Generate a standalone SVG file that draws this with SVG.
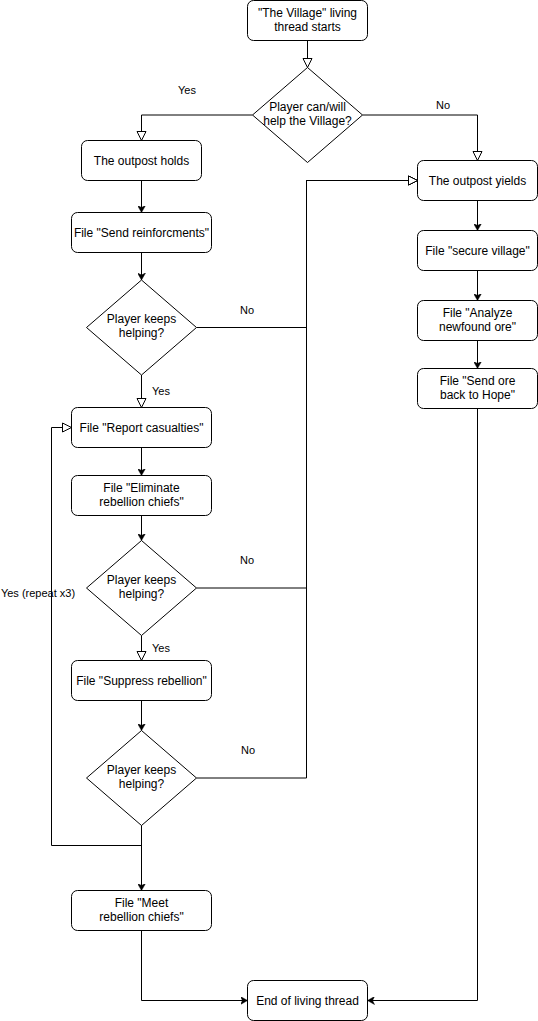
<svg xmlns="http://www.w3.org/2000/svg" width="538" height="1021" viewBox="0 0 538 1021">
<style>
.n{fill:#fff;stroke:#000;stroke-width:1}
.t{font-family:"Liberation Sans",Arial,Helvetica,sans-serif;font-size:12px;fill:#000;text-anchor:middle}
.l{font-family:"Liberation Sans",Arial,Helvetica,sans-serif;font-size:11px;fill:#000;text-anchor:middle}
.e{fill:none;stroke:#000;stroke-width:1}
.c{marker-end:url(#classic)}
.o{marker-end:url(#open)}
</style>
<defs>
<marker id="classic" viewBox="0 0 7 8" markerWidth="7" markerHeight="8" refX="7" refY="4" orient="auto" markerUnits="userSpaceOnUse">
<path d="M0,0 L7,4 L0,8 L2,4 Z" fill="#000" stroke="#000" stroke-width="0.5"/>
</marker>
<marker id="open" viewBox="-1 -1 11 11" markerWidth="11" markerHeight="11" refX="9" refY="4.5" orient="auto" markerUnits="userSpaceOnUse">
<path d="M0,0 L9,4.5 L0,9 Z" fill="#fff" stroke="#000" stroke-width="1"/>
</marker>
</defs>
<g id="connectors">
<path class="e o" d="M307.5 40.5 V67.5"/>
<path class="e o" d="M252.5 115 H141.5 V140.5"/>
<path class="e o" d="M362.5 115 H477.5 V160.5"/>
<path class="e c" d="M141.5 180.5 V212.5"/>
<path class="e c" d="M141.5 252.5 V280"/>
<path class="e o" d="M141.5 375 V407.5"/>
<path class="e o" d="M196.5 327.5 H306.5 V180.5 H417.5"/>
<path class="e c" d="M141.5 447.5 V475.5"/>
<path class="e c" d="M141.5 515.5 V540.5"/>
<path class="e o" d="M141.5 635.5 V660.5"/>
<path class="e o" d="M196.5 588 H306.5 V180.5 H417.5"/>
<path class="e c" d="M141.5 700.5 V730.5"/>
<path class="e o" d="M196.5 778 H306.5 V180.5 H417.5"/>
<path class="e o" d="M141.5 825.5 V845.5 H51.5 V427.5 H71.5"/>
<path class="e c" d="M141.5 825.5 V890.5"/>
<path class="e c" d="M141.5 930.5 V1000.5 H247.5"/>
<path class="e c" d="M477.5 200.5 V230.5"/>
<path class="e c" d="M477.5 270.5 V300.5"/>
<path class="e c" d="M477.5 340.5 V368.5"/>
<path class="e c" d="M477.5 408.5 V1000.5 H367.5"/>
<text class="l" x="187" y="94">Yes</text>
<text class="l" x="443" y="109">No</text>
<text class="l" x="247" y="314">No</text>
<text class="l" x="161" y="395">Yes</text>
<text class="l" x="247" y="564">No</text>
<text class="l" x="38" y="597">Yes (repeat x3)</text>
<text class="l" x="161" y="652">Yes</text>
<text class="l" x="248" y="754">No</text>
</g>
<g id="start">
<rect class="n" x="247.5" y="0.5" width="120" height="40" rx="6"/>
<text class="t" x="307.5" y="17">"The Village" living</text>
<text class="t" x="307.5" y="31">thread starts</text>
</g>
<g id="decision-help">
<polygon class="n" points="307.5,67.5 362.5,115 307.5,162.5 252.5,115"/>
<text class="t" x="307.5" y="110.5">Player can/will</text>
<text class="t" x="307.5" y="124.5">help the Village?</text>
</g>
<g id="outpost-holds">
<rect class="n" x="81.5" y="140.5" width="120" height="40" rx="6"/>
<text class="t" x="141.5" y="164.5">The outpost holds</text>
</g>
<g id="outpost-yields">
<rect class="n" x="417.5" y="160.5" width="120" height="40" rx="6"/>
<text class="t" x="477.5" y="184.5">The outpost yields</text>
</g>
<g id="send-reinforcements">
<rect class="n" x="71.5" y="212.5" width="140" height="40" rx="6"/>
<text class="t" x="141.5" y="236.5">File "Send reinforcments"</text>
</g>
<g id="decision-keeps-1">
<polygon class="n" points="141.5,280 196.5,327.5 141.5,375 86.5,327.5"/>
<text class="t" x="141.5" y="323">Player keeps</text>
<text class="t" x="141.5" y="337">helping?</text>
</g>
<g id="report-casualties">
<rect class="n" x="71.5" y="407.5" width="140" height="40" rx="6"/>
<text class="t" x="141.5" y="431.5">File "Report casualties"</text>
</g>
<g id="eliminate-chiefs">
<rect class="n" x="71.5" y="475.5" width="140" height="40" rx="6"/>
<text class="t" x="141.5" y="492">File "Eliminate</text>
<text class="t" x="141.5" y="506">rebellion chiefs"</text>
</g>
<g id="decision-keeps-2">
<polygon class="n" points="141.5,540.5 196.5,588 141.5,635.5 86.5,588"/>
<text class="t" x="141.5" y="583.5">Player keeps</text>
<text class="t" x="141.5" y="597.5">helping?</text>
</g>
<g id="suppress-rebellion">
<rect class="n" x="71.5" y="660.5" width="140" height="40" rx="6"/>
<text class="t" x="141.5" y="684.5">File "Suppress rebellion"</text>
</g>
<g id="decision-keeps-3">
<polygon class="n" points="141.5,730.5 196.5,778 141.5,825.5 86.5,778"/>
<text class="t" x="141.5" y="773.5">Player keeps</text>
<text class="t" x="141.5" y="787.5">helping?</text>
</g>
<g id="meet-chiefs">
<rect class="n" x="71.5" y="890.5" width="140" height="40" rx="6"/>
<text class="t" x="141.5" y="907">File "Meet</text>
<text class="t" x="141.5" y="921">rebellion chiefs"</text>
</g>
<g id="end">
<rect class="n" x="247.5" y="980.5" width="120" height="40" rx="6"/>
<text class="t" x="307.5" y="1004.5">End of living thread</text>
</g>
<g id="secure-village">
<rect class="n" x="417.5" y="230.5" width="120" height="40" rx="6"/>
<text class="t" x="477.5" y="254.5">File "secure village"</text>
</g>
<g id="analyze-ore">
<rect class="n" x="417.5" y="300.5" width="120" height="40" rx="6"/>
<text class="t" x="477.5" y="317">File "Analyze</text>
<text class="t" x="477.5" y="331">newfound ore"</text>
</g>
<g id="send-ore">
<rect class="n" x="417.5" y="368.5" width="120" height="40" rx="6"/>
<text class="t" x="477.5" y="385">File "Send ore</text>
<text class="t" x="477.5" y="399">back to Hope"</text>
</g>
</svg>
